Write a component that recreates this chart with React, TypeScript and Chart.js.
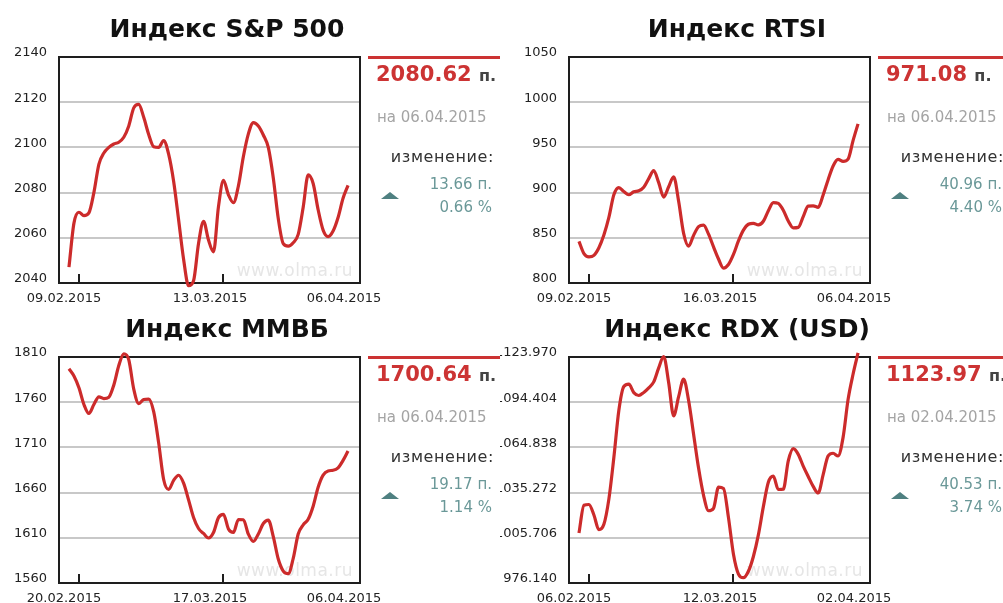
import React, { useEffect, useRef } from "react";
import { Chart, registerables } from "chart.js";

Chart.register(...registerables);

// ---- data ----
const spValues = [2047, 2066.5, 2071.3, 2069.8, 2071, 2080, 2092.5, 2097.5, 2100, 2101.5, 2102.3, 2104.5, 2109.5, 2117.5, 2119, 2113.3, 2105.7, 2100.3, 2100, 2103, 2097, 2085, 2068, 2050.5, 2038.8, 2041, 2057.5, 2067.3, 2059, 2053.8, 2073.8, 2085.4, 2079, 2075.5, 2083, 2096, 2106, 2111, 2109.5, 2105.5, 2100, 2086.5, 2068.5, 2057.4, 2056.3, 2057.8, 2061.5, 2073.5, 2087.8, 2084, 2072.4, 2063.4, 2060.5, 2063, 2069, 2077.5, 2083.2];
const rtsValues = [846, 832.5, 828.8, 830.5, 839, 853, 872.5, 897.5, 905.5, 901.2, 897.6, 901, 902, 906, 915.5, 924.3, 911, 895, 906.5, 917.5, 890.5, 855, 840.8, 852.7, 862.3, 864, 854, 840, 826.5, 816.5, 820.5, 831.6, 846.5, 858.5, 865, 866, 864.3, 868.3, 880, 889, 888, 880.5, 868.5, 861, 861.5, 873.5, 885, 885.4, 883.7, 897.4, 914.3, 929.5, 936.7, 934.5, 937, 957.5, 976];
const micexValues = [1797, 1789, 1776, 1757.5, 1747.5, 1757.5, 1766, 1764, 1765.5, 1779, 1800.5, 1813.5, 1807, 1774.5, 1758.5, 1763, 1763.5, 1749.5, 1715, 1674.5, 1663.5, 1673.5, 1679.2, 1670.5, 1652, 1632.5, 1620.3, 1614.8, 1609.8, 1615.8, 1632.3, 1636, 1619.8, 1615.9, 1630.2, 1630, 1614, 1606, 1614.3, 1625.8, 1629.6, 1611.4, 1586.5, 1573.2, 1570.3, 1587.2, 1614.2, 1624.3, 1630.5, 1645, 1666, 1679.4, 1684, 1684.7, 1687.4, 1695.6, 1706];
const rdxValues = [1008.8, 1027, 1027.5, 1020.6, 1011, 1014.5, 1031, 1058.2, 1089, 1104.7, 1106.2, 1100.7, 1098.8, 1100.8, 1103.8, 1107.7, 1116.9, 1124.3, 1107.2, 1085.5, 1098, 1109.5, 1095.5, 1073.5, 1051.3, 1033.5, 1023.4, 1025, 1038.8, 1038, 1018.9, 995, 982, 979.6, 983.8, 993.5, 1007.6, 1026.1, 1042, 1046, 1037.3, 1037.5, 1056, 1064, 1060.3, 1052.6, 1045.8, 1039.3, 1035, 1047, 1059.3, 1061, 1059.2, 1071.4, 1096.1, 1112.7, 1126.6];

const spTicks = [2040, 2060, 2080, 2100, 2120, 2140];
const rtsTicks = [800, 850, 900, 950, 1000, 1050];
const micexTicks = [1560, 1610, 1660, 1710, 1760, 1810];
const rdxTicks = [976.14, 1005.706, 1035.272, 1064.838, 1094.404, 1123.97];

const spDates = ["09.02.2015", "13.03.2015", "06.04.2015"];
const rtsDates = ["09.02.2015", "16.03.2015", "06.04.2015"];
const micexDates = ["20.02.2015", "17.03.2015", "06.04.2015"];
const rdxDates = ["06.02.2015", "12.03.2015", "02.04.2015"];

const titles = ["Индекс S&P 500", "Индекс RTSI", "Индекс ММВБ", "Индекс RDX (USD)"];
const lastValues = ["2080.62", "971.08", "1700.64", "1123.97"];
const asOfDates = ["06.04.2015", "06.04.2015", "06.04.2015", "02.04.2015"];
const changePoints = ["13.66", "40.96", "19.17", "40.53"];
const changePercents = ["0.66", "4.40", "1.14", "3.74"];

// ---- axis configuration (index units) ----
const X_MIN = -2;
const X_MAX = 58.4;
const X_LABEL_POS = [-1, 28.3, 55.2];
const X_MARK_POS = [2, 31];

const FONT = '"DejaVu Sans", "Liberation Sans", sans-serif';
const RED = "#cc2b2b";
const TEAL_TEXT = "#6a9898";
const TEAL = "#4f8081";

const framePlugin = {
  id: "frame",
  beforeDatasetsDraw(chart: any, _args: any, opts: any) {
    const { ctx, chartArea: a, scales } = chart;
    ctx.save();
    ctx.font = `17px ${FONT}`;
    (ctx as any).letterSpacing = "0.5px";
    ctx.fillStyle = "#e6e6e6";
    ctx.textAlign = "right";
    ctx.textBaseline = "alphabetic";
    ctx.fillText("www.olma.ru", a.right - 7, a.bottom - 7);
    (ctx as any).letterSpacing = "0px";
    ctx.strokeStyle = "#1e1e1e";
    ctx.lineWidth = 2;
    ctx.strokeRect(a.left, a.top, a.right - a.left, a.bottom - a.top);
    const xs = scales.x;
    for (const v of opts.marks || []) {
      const px = Math.round(xs.getPixelForValue(v));
      ctx.beginPath();
      ctx.moveTo(px, a.bottom);
      ctx.lineTo(px, a.bottom - 9);
      ctx.stroke();
    }
    ctx.restore();
  },
};

type PanelProps = {
  values: number[];
  ticks: number[];
  decimals: number;
  dates: string[];
  left: number;
  top: number;
  title: string;
  last: string;
  asOf: string;
  chPts: string;
  chPct: string;
};

function Panel(p: PanelProps) {
  const ref = useRef<HTMLCanvasElement>(null);
  useEffect(() => {
    const chart = new Chart(ref.current as HTMLCanvasElement, {
      type: "line",
      data: {
        datasets: [
          {
            data: p.values.map((y, i) => ({ x: i, y })),
            borderColor: RED,
            borderWidth: 3.2,
            pointRadius: 0,
            cubicInterpolationMode: "monotone",
            clip: false as any,
            fill: false,
          } as any,
        ],
      },
      options: {
        responsive: false,
        animation: false,
        devicePixelRatio: 1,
        layout: { padding: { top: 57, right: 30, bottom: 0, left: 0 } },
        plugins: {
          legend: { display: false },
          tooltip: { enabled: false },
          frame: { marks: X_MARK_POS },
        } as any,
        scales: {
          x: {
            type: "linear",
            min: X_MIN,
            max: X_MAX,
            grid: { display: false },
            border: { display: false },
            afterBuildTicks: (s: any) => {
              s.ticks = X_LABEL_POS.map((v) => ({ value: v }));
            },
            afterFit: (s: any) => {
              s.height = 27;
            },
            ticks: {
              callback: (_v: any, i: number) => p.dates[i],
              font: { family: FONT, size: 13 },
              color: "#222",
              padding: 0,
              maxRotation: 0,
              autoSkip: false,
            },
          },
          y: {
            type: "linear",
            min: p.ticks[0],
            max: p.ticks[p.ticks.length - 1],
            grid: { color: "#c8c8c8", lineWidth: 2, drawTicks: false },
            border: { display: false },
            afterBuildTicks: (s: any) => {
              s.ticks = p.ticks.map((v) => ({ value: v }));
            },
            afterFit: (s: any) => {
              s.width = 69;
            },
            ticks: {
              callback: (v: any) => Number(v).toFixed(p.decimals),
              font: { family: FONT, size: 13 },
              color: "#222",
              padding: 12,
              labelOffset: -4,
              autoSkip: false,
            },
          },
        },
      } as any,
      plugins: [framePlugin as any],
    });
    return () => chart.destroy();
  }, []);

  const ox = p.left + 10;
  const oy = p.top;
  const abs = (l: number, t: number, extra: React.CSSProperties = {}): React.CSSProperties => ({
    position: "absolute",
    left: l,
    top: t,
    whiteSpace: "nowrap",
    fontFamily: FONT,
    ...extra,
  });
  const rightText = (right: number, t: number, fs: number, color: string, extra: React.CSSProperties = {}) =>
    abs(right - 200, t, { width: 200, textAlign: "right", fontSize: fs, lineHeight: `${fs}px`, color, ...extra });

  return (
    <>
      <canvas
        ref={ref}
        width={400}
        height={310}
        style={{ position: "absolute", left: p.left, top: p.top, width: 400, height: 310 }}
      />
      <div
        style={abs(p.left + 237 - 200, oy + 16, {
          width: 400,
          textAlign: "center",
          fontSize: 25,
          lineHeight: "25px",
          fontWeight: "bold",
          color: "#111",
        })}
      >
        {p.title}
      </div>
      <div style={abs(ox + 368, oy + 56, { width: 132, height: 3, background: "#cc3333" })} />
      <div style={abs(ox + 376, oy + 64, { fontSize: 21, lineHeight: "21px", fontWeight: "bold", color: "#cc3333" })}>
        {p.last}{" "}
        <span style={{ fontSize: 16, color: "#444" }}>п.</span>
      </div>
      <div style={abs(ox + 377, oy + 110, { fontSize: 15, lineHeight: "15px", color: "#a4a4a4" })}>на {p.asOf}</div>
      <div style={rightText(ox + 494, oy + 149, 16, "#333", { letterSpacing: "0.6px" })}>изменение:</div>
      <div style={rightText(ox + 492, oy + 177, 15, TEAL_TEXT)}>{p.chPts} п.</div>
      <div style={rightText(ox + 492, oy + 200, 15, TEAL_TEXT)}>{p.chPct} %</div>
      <div
        style={abs(ox + 381, oy + 192, {
          width: 0,
          height: 0,
          borderLeft: "9px solid transparent",
          borderRight: "9px solid transparent",
          borderBottom: `7px solid ${TEAL}`,
        })}
      />
    </>
  );
}

const panels: PanelProps[] = [
  { values: spValues, ticks: spTicks, decimals: 0, dates: spDates, left: -10, top: 0, title: titles[0], last: lastValues[0], asOf: asOfDates[0], chPts: changePoints[0], chPct: changePercents[0] },
  { values: rtsValues, ticks: rtsTicks, decimals: 0, dates: rtsDates, left: 500, top: 0, title: titles[1], last: lastValues[1], asOf: asOfDates[1], chPts: changePoints[1], chPct: changePercents[1] },
  { values: micexValues, ticks: micexTicks, decimals: 0, dates: micexDates, left: -10, top: 300, title: titles[2], last: lastValues[2], asOf: asOfDates[2], chPts: changePoints[2], chPct: changePercents[2] },
  { values: rdxValues, ticks: rdxTicks, decimals: 3, dates: rdxDates, left: 500, top: 300, title: titles[3], last: lastValues[3], asOf: asOfDates[3], chPts: changePoints[3], chPct: changePercents[3] },
];

export default function App() {
  return (
    <div
      style={{
        position: "fixed",
        left: 0,
        top: 0,
        width: 1003,
        height: 603,
        overflow: "hidden",
        background: "#fff",
      }}
    >
      {panels.map((p, i) => (
        <Panel key={i} {...p} />
      ))}
    </div>
  );
}
